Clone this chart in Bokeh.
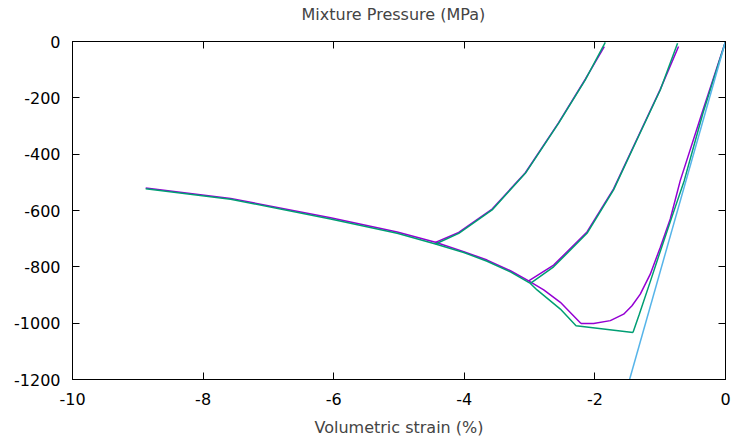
from bokeh.plotting import figure
from bokeh.models import FixedTicker, LinearAxis, Title
from bokeh.embed import file_html
from bokeh.resources import INLINE

# ---- data (volumetric strain %, mixture pressure MPa) ----
x_ticks = [-10, -8, -6, -4, -2, 0]
y_ticks = [-1200, -1000, -800, -600, -400, -200, 0]
title_text = "Mixture Pressure (MPa)"
x_label_text = "Volumetric strain (%)"

# purple series
purple_load_strain = [0.0, -0.361, -0.693, -0.846, -0.999, -1.152, -1.305, -1.432, -1.560, -1.764, -2.020, -2.213]
purple_load_p = [0, -255, -494, -630, -731, -826, -897, -938, -968, -991, -1001, -1001]
purple_env_strain = [-2.213, -2.529, -2.784, -3.014, -3.294, -3.651, -4.008, -4.442, -5.028, -6.048, -7.578, -8.879]
purple_env_p = [-1001, -926, -882, -850, -814, -776, -746, -713, -676, -626, -557, -520]
purple_unl1_strain = [-4.442, -4.085, -3.574, -3.065, -2.555, -2.147, -1.856]
purple_unl1_p = [-713, -678, -595, -466, -288, -134, -18]
purple_unl2_strain = [-3.014, -2.632, -2.121, -1.714, -1.356, -0.999, -0.719]
purple_unl2_p = [-850, -794, -676, -523, -346, -170, -18]

# green series
green_load_strain = [0.0, -0.346, -0.632, -0.805, -0.979, -1.147, -1.320, -1.417]
green_load_p = [0, -255, -494, -612, -731, -849, -968, -1033]
green_env_strain = [-1.417, -2.289, -2.529, -2.886, -2.988, -3.294, -3.651, -4.008, -4.441, -5.028, -6.048, -7.578, -8.879]
green_env_p = [-1033, -1009, -950, -882, -859, -818, -780, -749, -719, -681, -630, -560, -523]
green_unl1_strain = [-4.441, -4.085, -3.574, -3.065, -2.555, -2.147, -1.841]
green_unl1_p = [-719, -681, -598, -468, -290, -136, -3]
green_unl2_strain = [-2.988, -2.632, -2.121, -1.714, -1.356, -0.999, -0.734]
green_unl2_p = [-859, -800, -681, -527, -349, -172, -6]

# blue reference line
blue_strain = [0.0, -1.469]
blue_p = [0, -1200]

PURPLE = "#9400D3"
GREEN = "#009E73"
BLUE = "#56B4E9"
FONT = "DejaVu Sans"
FS = "16px"

p = figure(width=734, height=444, x_range=(-10, 0), y_range=(-1200, 0),
           output_backend="svg", toolbar_location=None,
           min_border_left=72, min_border_right=9, min_border_top=41, min_border_bottom=65)
p.title = Title(text=title_text, align="left", text_font=FONT,
                text_font_size=FS, text_font_style="normal", offset=229, standoff=2)
p.xgrid.visible = False
p.ygrid.visible = False
p.outline_line_color = "black"
p.outline_line_width = 1
p.background_fill_color = "white"
p.border_fill_color = "white"

def style_axis(ax, ticks, labels=True):
    ax.ticker = FixedTicker(ticks=ticks)
    ax.major_tick_in = 7
    ax.major_tick_out = 0
    ax.minor_tick_line_color = None
    ax.major_tick_line_color = "black"
    ax.axis_line_color = "black"
    ax.major_label_text_font = FONT
    if labels:
        ax.major_label_text_font_size = FS
        ax.major_label_text_color = "black"
        ax.major_label_overrides = {t: str(t) for t in ticks}
    else:
        ax.major_label_text_font_size = "0px"
        ax.major_label_text_color = None
        ax.major_label_standoff = 0
    ax.axis_label_text_font = FONT
    ax.axis_label_text_font_size = FS
    ax.axis_label_text_font_style = "normal"

style_axis(p.xaxis[0], x_ticks)
style_axis(p.yaxis[0], y_ticks)
p.xaxis[0].axis_label = x_label_text
p.xaxis[0].major_label_standoff = 13
p.xaxis[0].axis_label_standoff = 10
p.yaxis[0].major_label_standoff = 12

# mirrored ticks on top
top = LinearAxis()
style_axis(top, x_ticks, labels=False)
p.add_layout(top, "above")
# invisible spacer axis that lifts the title to its place
spacer = LinearAxis()
style_axis(spacer, x_ticks, labels=False)
spacer.major_tick_in = 0
spacer.major_tick_out = 17
spacer.major_tick_line_color = None
spacer.axis_line_color = None
p.add_layout(spacer, "above")
# mirrored ticks on the right
right = LinearAxis()
style_axis(right, y_ticks, labels=False)
p.add_layout(right, "right")

LW = 1.5
for xs, ys in [(purple_load_strain, purple_load_p), (purple_env_strain, purple_env_p),
               (purple_unl1_strain, purple_unl1_p), (purple_unl2_strain, purple_unl2_p)]:
    p.line(xs, ys, line_color=PURPLE, line_width=LW)
for xs, ys in [(green_load_strain, green_load_p), (green_env_strain, green_env_p),
               (green_unl1_strain, green_unl1_p), (green_unl2_strain, green_unl2_p)]:
    p.line(xs, ys, line_color=GREEN, line_width=LW)
p.line(blue_strain, blue_p, line_color=BLUE, line_width=LW)

open("out.html", "w").write(file_html(p, INLINE))
